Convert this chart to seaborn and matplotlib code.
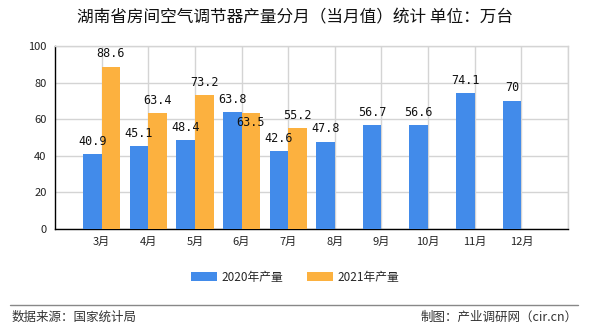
import numpy as np
import pandas as pd
import matplotlib
matplotlib.use("Agg")
import matplotlib.pyplot as plt
from matplotlib.patches import Patch
import seaborn as sns

# Monthly output of room air conditioners in Hunan (10k units)
months = ["3月", "4月", "5月", "6月", "7月", "8月", "9月", "10月", "11月", "12月"]
series_2020 = [40.9, 45.1, 48.4, 63.8, 42.6, 47.8, 56.7, 56.6, 74.1, 70]
series_2021 = [88.6, 63.4, 73.2, 63.5, 55.2]
series_names = ["2020年产量", "2021年产量"]
y_ticks = [0, 20, 40, 60, 80, 100]

title = "湖南省房间空气调节器产量分月（当月值）统计 单位：万台"
source_text = "数据来源：国家统计局"
credit_text = "制图：产业调研网（cir.cn）"

colors = ["#428BEA", "#FCB13F"]

rows = []
for m, v in zip(months, series_2020):
    rows.append({"month": m, "series": series_names[0], "value": v})
for m, v in zip(months, series_2021):
    rows.append({"month": m, "series": series_names[1], "value": v})
df = pd.DataFrame(rows)

sns.set_theme(style="white")
plt.rcParams["font.family"] = ["Noto Sans CJK SC", "DejaVu Sans"]

fig = plt.figure(figsize=(5.9, 3.3), dpi=100)
ax = fig.add_axes([55 / 590, 1 - 229 / 330, (568 - 55) / 590, (229 - 46) / 330])

sns.barplot(data=df, x="month", y="value", hue="series", order=months,
            hue_order=series_names, palette=colors, width=0.8, dodge=True,
            saturation=1, errorbar=None, ax=ax, legend=False, zorder=3,
            linewidth=0, edgecolor="none")

ax.set_xlim(-1, len(months))
ax.set_ylim(0, 100)
ax.set_yticks(y_ticks)
ax.set_xticks(range(len(months) + 1))
ax.set_xticklabels(months + [""])
ax.set_xlabel("")
ax.set_ylabel("")

grid_color = "#D4D4D4"
ax.grid(True, color=grid_color, linewidth=1, zorder=0)
ax.set_axisbelow(True)
for side in ["top", "right"]:
    ax.spines[side].set_color(grid_color)
    ax.spines[side].set_linewidth(1)
for side in ["left", "bottom"]:
    ax.spines[side].set_color("black")
    ax.spines[side].set_linewidth(1)

ax.tick_params(axis="both", which="major", direction="out", length=4,
               width=1, color="black", labelsize=8, labelcolor="#222222", pad=2)

# Value labels above each bar
label_font = dict(family=["DejaVu Sans Mono"], fontsize=8.5, color="#111111")
for i, container in enumerate(ax.containers):
    for bar in container:
        h = bar.get_height()
        if np.isnan(h):
            continue
        x = bar.get_x() + bar.get_width() / 2
        txt = f"{h:g}"
        if i == 1 and txt == "63.5":
            ax.text(x, h - 2, txt, ha="center", va="top", zorder=5, **label_font)
        else:
            ax.text(x, h + 3.5, txt, ha="center", va="bottom", zorder=5, **label_font)

fig.text(0.5, 1 - 18 / 330, title, ha="center", va="center", fontsize=12,
         color="#111111")

# Legend
handles = [Patch(facecolor=c, edgecolor="none") for c in colors]
fig.legend(handles, series_names, loc="center", bbox_to_anchor=(0.5, 1 - 277 / 330),
           ncol=2, frameon=False, fontsize=8.5, handlelength=2.2, handleheight=0.7,
           columnspacing=2.0, handletextpad=0.4)

# Footer
fig.add_artist(plt.Line2D([10 / 590, 578 / 590], [1 - 305 / 330, 1 - 305 / 330],
                          color="#888888", linewidth=1))
fig.text(12 / 590, 1 - 317 / 330, source_text, ha="left", va="center",
         fontsize=9, color="#333333")
fig.text(578 / 590, 1 - 317 / 330, credit_text, ha="right", va="center",
         fontsize=9, color="#333333")

fig.savefig("out.png", dpi=100)
